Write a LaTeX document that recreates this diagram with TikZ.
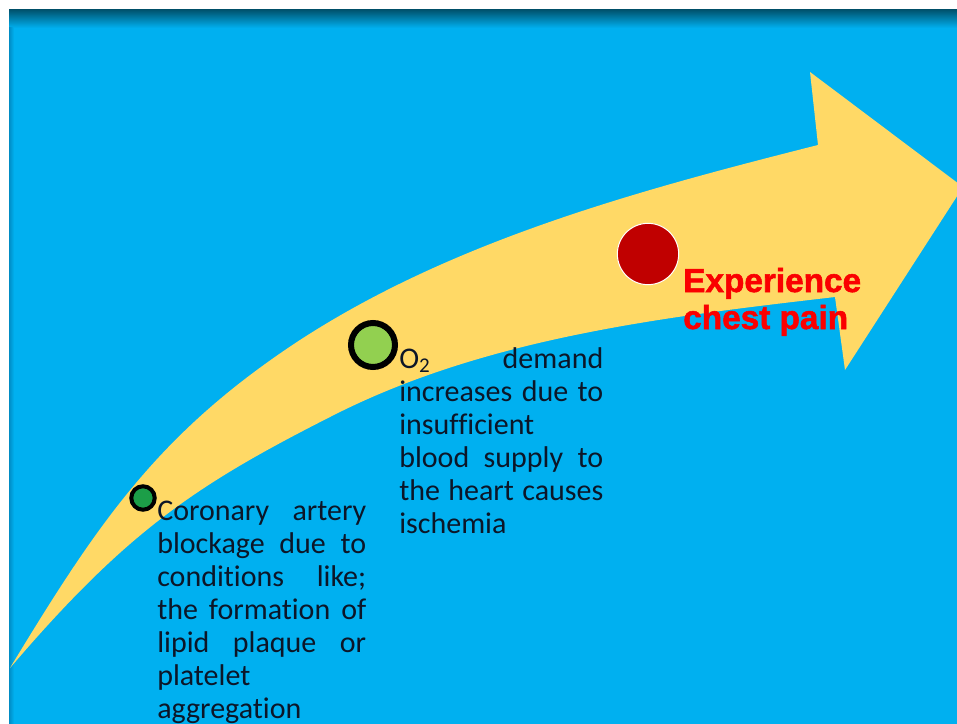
\documentclass[tikz,border=0pt]{standalone}
\usepackage{fontspec}
\setmainfont{Carlito}[Ligatures=NoCommon]
\newfontfamily\headfont{Liberation Sans}[BoldFeatures={FakeBold=1.6}]
\definecolor{slideblue}{RGB}{0,176,240}
\definecolor{shadowblue}{RGB}{0,84,112}
\definecolor{edgeblue}{RGB}{0,140,196}
\definecolor{arrowyellow}{RGB}{255,217,102}
\definecolor{darkgreen}{RGB}{28,158,72}
\definecolor{lightgreen}{RGB}{146,208,80}
\definecolor{darkred}{RGB}{192,0,0}
\definecolor{textred}{RGB}{250,0,0}
\definecolor{textdark}{RGB}{12,22,40}
\tikzset{
	dot/.style={circle, inner sep=0pt, draw=black},
	body/.style={anchor=base west, inner sep=0pt, font=\fontsize{22.5}{24.75}\selectfont, text=textdark},
	head/.style={anchor=base west, inner sep=0pt, font=\headfont\bfseries\fontsize{25}{27.75}\selectfont, text=textred},
}

\begin{document}
\begin{tikzpicture}[x=0.75pt, y=-0.75pt]
	\useasboundingbox (0,0) rectangle (957,724) ;
	% slide background
	\fill[white] (0,0) rectangle (957,724) ;
	\fill[slideblue] (9,10) rectangle (957,724) ;
	\shade[top color=shadowblue, bottom color=slideblue] (9,10) rectangle (957,28) ;
	\shade[left color=edgeblue, right color=slideblue] (9,28) rectangle (14,724) ;
	% curved arrow
	\fill[arrowyellow] (10,668) .. controls (98,523) and (158,433) .. (300,340)
		.. controls (454,240) and (640,190) .. (818,145)
		-- (810,72) -- (963,187) -- (845,370) -- (835,297)
		.. controls (663,317) and (484,338) .. (330,417)
		.. controls (196,485) and (127,531) .. (10,668) -- cycle ;
	% steps
	\node (startdot)[dot, fill=darkgreen, line width=3pt, minimum size=17.6pt] at (143,498) {} ;
	\node (middot)[dot, fill=lightgreen, line width=4.5pt, minimum size=33pt] at (373,345) {} ;
	\node (paindot)[dot, draw=white, fill=darkred, line width=0.75pt, minimum size=46pt] at (648,254) {} ;
	\node (blockage)[body] at (157,520) {\vtop{%
		\hbox to 156.75pt{Coronary\hfil artery}
		\hbox to 156.75pt{blockage\hfil due\hfil to}
		\hbox to 156.75pt{conditions\hfil like;}
		\hbox to 156.75pt{the\hfil formation\hfil of}
		\hbox to 156.75pt{lipid\hfil plaque\hfil or}
		\hbox{platelet}
		\hbox{aggregation}}} ;
	\node (demand)[body] at (399,368) {\vtop{%
		\hbox to 153pt{O\textsubscript{2}\hfil demand}
		\hbox to 153pt{increases\hfil due\hfil to}
		\hbox{insufficient}
		\hbox to 153pt{blood\hfil supply\hfil to}
		\hbox to 153pt{the\hfil heart\hfil causes}
		\hbox{ischemia}}} ;
	\node (pain)[head] at (683,292) {\vtop{\hbox{Experience}\hbox{chest pain}}} ;
\end{tikzpicture}
\end{document}
